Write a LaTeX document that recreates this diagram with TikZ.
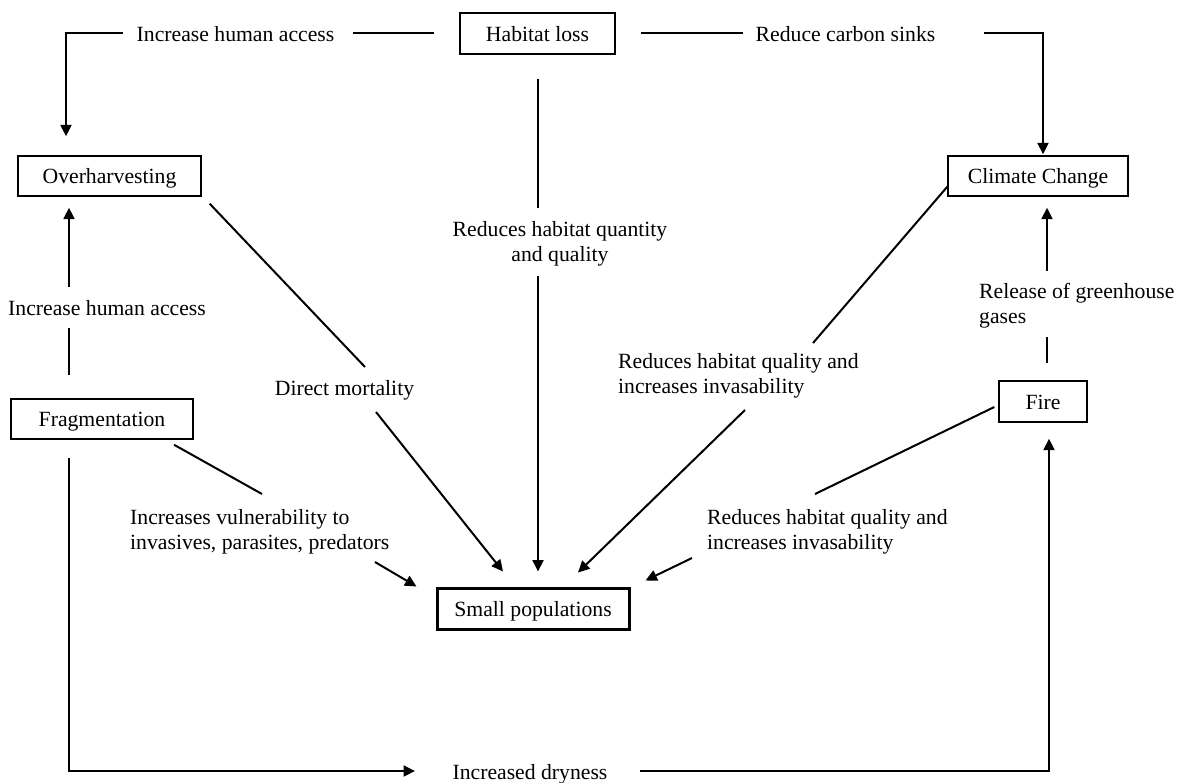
\documentclass[tikz,border=0pt]{standalone}
\usepackage{fontspec}
\setmainfont{Liberation Serif}
\usetikzlibrary{arrows.meta,calc}
\newcommand\dfont{\fontsize{21.7}{25}\selectfont}
\begin{document}
\begin{tikzpicture}[x=1pt,y=-1pt,
  box/.style={draw, line width=1.4pt, inner sep=0pt, minimum height=40pt,
    text height=16pt, text depth=1pt, font=\dfont},
  lbl/.style={inner sep=0pt, font=\dfont},
  conn/.style={line width=2pt},
  arr/.style={conn, -{Triangle[length=11.5pt,width=11pt]}}]
\useasboundingbox (0,0) rectangle (1182,782);
\fill[white] (0,0) rectangle (1182,782);

% boxes
\node[box, minimum width=155pt, minimum height=41pt] (hl) at (537.5,33.5) {Habitat loss};
\node[box, minimum width=183pt] (oh) at (109.5,176) {Overharvesting};
\node[box, minimum width=180pt] (cc) at (1038,176) {Climate Change};
\node[box, minimum width=182pt] (fr) at (102,419) {Fragmentation};
\node[box, minimum width=88pt, minimum height=41pt] (fi) at (1043,401.5) {Fire};
\node[box, line width=3pt, minimum width=192pt, minimum height=41pt] (sp) at (533,608.5) {Small populations};

% labels
\node[lbl, anchor=base] (l1) at (235.5,41.5) {Increase human access};
\node[lbl, anchor=base] (l2) at (845.5,41.5) {Reduce carbon sinks};
\node[lbl, anchor=north, align=center] (l3) at (560,221) {Reduces habitat quantity\\and quality};
\node[lbl, anchor=base] (l4) at (107,315) {Increase human access};
\node[lbl, anchor=base] (l5) at (344.5,395) {Direct mortality};
\node[lbl, anchor=north west, align=left] (l6) at (618,353.5) {Reduces habitat quality and\\increases invasability};
\node[lbl, anchor=north west, align=left] (l7) at (979,283) {Release of greenhouse\\gases};
\node[lbl, anchor=north west, align=left] (l8) at (130,509.5) {Increases vulnerability to\\invasives, parasites, predators};
\node[lbl, anchor=north west, align=left] (l9) at (707,509.5) {Reduces habitat quality and\\increases invasability};
\node[lbl, anchor=base] (l10) at (530,779) {Increased dryness};

% free ends next to the labels
\coordinate (a1) at (353,33);
\coordinate (a2) at (123,33);
\coordinate (b1) at (743,33);
\coordinate (b2) at (984,33);
\coordinate (c1) at (538,208);
\coordinate (c2) at (538,276);
\coordinate (d1) at (69,328);
\coordinate (d2) at (69,287);
\coordinate (e1) at (1047,337);
\coordinate (e2) at (1047,271);
\coordinate (f1) at (365,367);
\coordinate (f2) at (376,412);
\coordinate (g1) at (813,343);
\coordinate (g2) at (745,410);
\coordinate (h1) at (815,494);
\coordinate (h2) at (692,558);
\coordinate (i1) at (262,494);
\coordinate (i2) at (375,562);
\coordinate (j1) at (415,771);
\coordinate (j2) at (640,771);

% Habitat loss -> Overharvesting
\draw[conn] ($(hl.west)+(-25,-0.5)$) -- (a1);
\draw[arr] (a2) -| ($(oh.north)+(-43.5,-19)$);
% Habitat loss -> Climate Change
\draw[conn] ($(hl.east)+(25,-0.5)$) -- (b1);
\draw[arr] (b2) -| ($(cc.north)+(5,-1)$);
% Habitat loss -> Small populations
\draw[conn] ($(hl.south)+(0.5,24)$) -- (c1);
\draw[arr] (c2) -- ($(sp.north)+(5,-15)$);
% Fragmentation -> Overharvesting
\draw[conn] ($(fr.north)+(-33,-23)$) -- (d1);
\draw[arr] (d2) -- ($(oh.south)+(-40.5,11)$);
% Fire -> Climate Change
\draw[conn] ($(fi.north)+(4,-17)$) -- (e1);
\draw[arr] (e2) -- ($(cc.south)+(9,11)$);
% Overharvesting -> Small populations
\draw[conn] ($(oh.south east)+(8,7)$) -- (f1);
\draw[arr] (f2) -- ($(sp.north)+(-30,-15)$);
% Climate Change -> Small populations
\draw[conn] ($(cc.south west)+(0,-10)$) -- (g1);
\draw[arr] (g2) -- ($(sp.north)+(45,-14)$);
% Fire -> Small populations
\draw[conn] ($(fi.west)+(-4,5.5)$) -- (h1);
\draw[arr] (h2) -- ($(sp.north east)+(15,-6)$);
% Fragmentation -> Small populations
\draw[conn] ($(fr.south)+(72,5)$) -- (i1);
\draw[arr] (i2) -- ($(sp.north west)+(-19,0)$);
% Fragmentation -> Fire
\draw[arr] ($(fr.south)+(-33,18)$) |- (j1);
\draw[arr] (j2) -| ($(fi.south)+(6,16)$);
\end{tikzpicture}
\end{document}
